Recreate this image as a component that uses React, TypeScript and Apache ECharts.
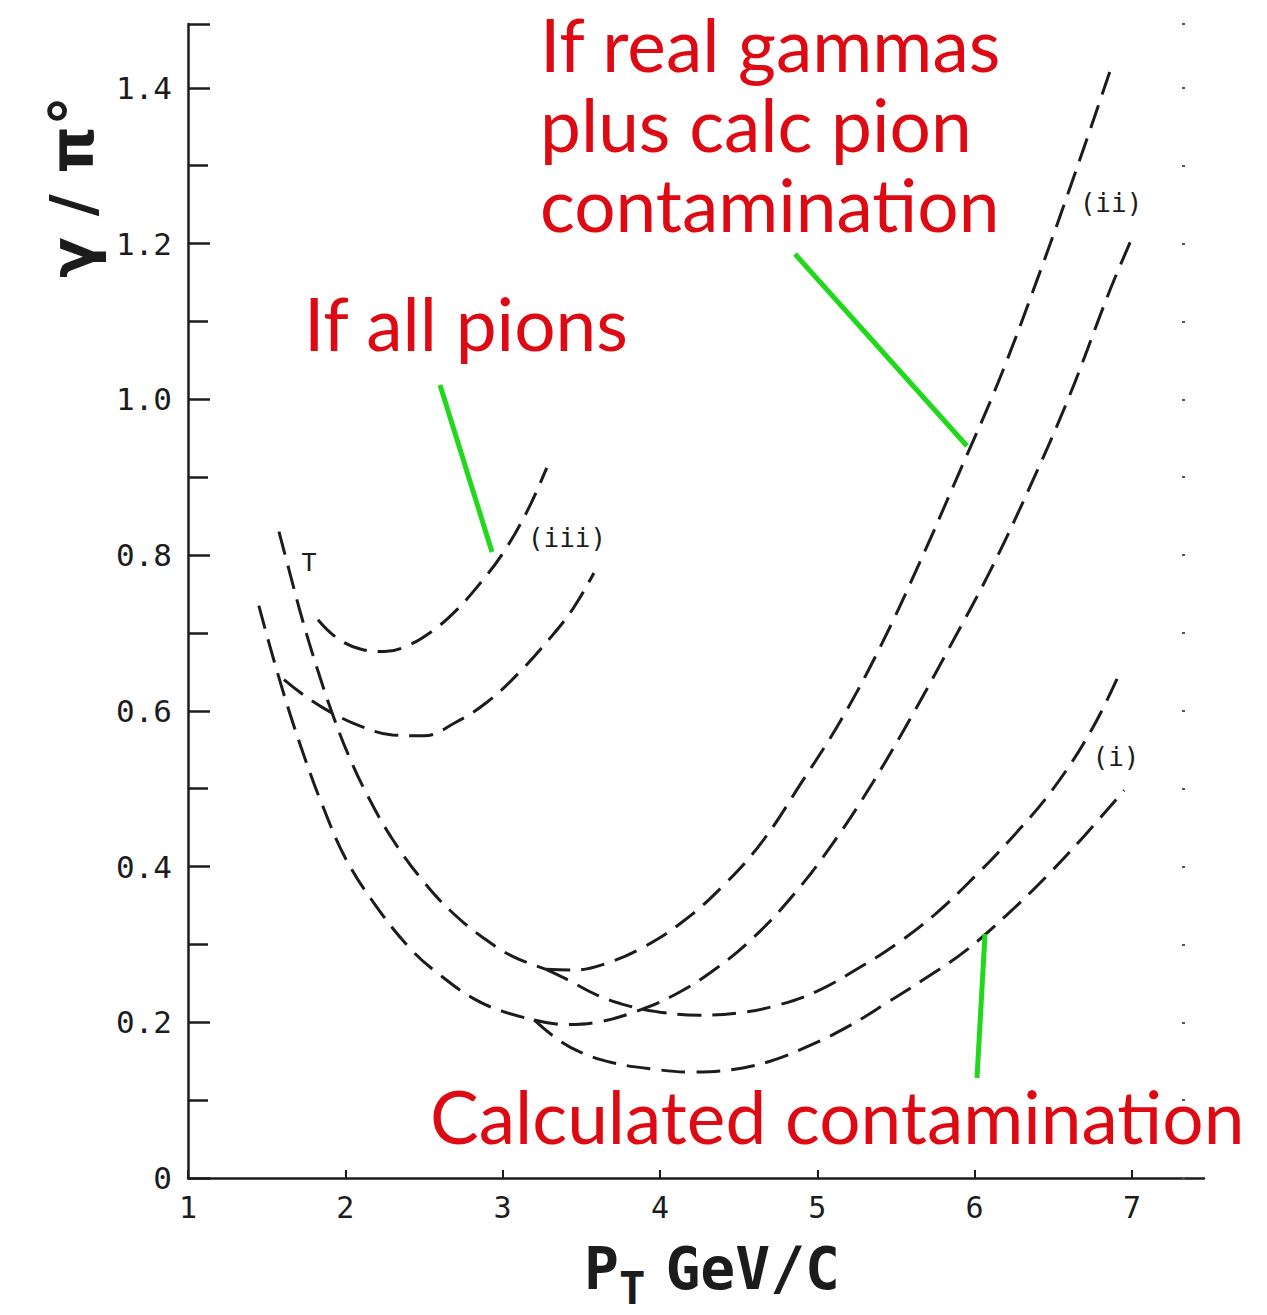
import React, { useEffect, useRef } from "react";
import * as echarts from "echarts";

// ---- data (x = P_T GeV/c, y = gamma / pi0) ----
const xTickValues = [1, 2, 3, 4, 5, 6, 7];
const yTickValues = [0, 0.2, 0.4, 0.6, 0.8, 1.0, 1.2, 1.4];

// left, steep, lower branch (common to both lower curves)
const branchLower: number[][] = [
  [1.45, 0.735], [1.55, 0.662], [1.65, 0.595], [1.75, 0.535], [1.85, 0.481], [2.0, 0.411],
  [2.2, 0.348], [2.42, 0.293], [2.6, 0.261], [2.81, 0.231], [3.0, 0.214], [3.2, 0.203],
];
// left, steep, upper branch (common to both upper curves), marked T
const branchUpper: number[][] = [
  [1.578, 0.83], [1.65, 0.775], [1.73, 0.715], [1.82, 0.655], [1.92, 0.595], [2.02, 0.543],
  [2.144, 0.49], [2.3, 0.435], [2.5, 0.38], [2.685, 0.34], [2.88, 0.308], [3.06, 0.285],
  [3.276, 0.268],
];
// (ii) upper
const curveIIUpper: number[][] = [
  [3.276, 0.268], [3.45, 0.267], [3.65, 0.275], [3.9, 0.297], [4.15, 0.33], [4.4, 0.375],
  [4.65, 0.432], [4.9, 0.508], [5.15, 0.588], [5.4, 0.682], [5.65, 0.79], [5.9, 0.905],
  [6.15, 1.022], [6.4, 1.155], [6.65, 1.297], [6.87, 1.427],
];
// (ii) lower
const curveIILower: number[][] = [
  [3.2, 0.203], [3.4, 0.197], [3.6, 0.2], [3.85, 0.214], [4.1, 0.236], [4.35, 0.268],
  [4.6, 0.31], [4.85, 0.364], [5.1, 0.43], [5.35, 0.507], [5.6, 0.593], [5.85, 0.685],
  [6.1, 0.78], [6.35, 0.887], [6.6, 1.003], [6.85, 1.135], [7.0, 1.207],
];
// (i) upper
const curveIUpper: number[][] = [
  [3.276, 0.268], [3.4, 0.256], [3.6, 0.235], [3.8, 0.221], [4.0, 0.213], [4.25, 0.209],
  [4.5, 0.212], [4.75, 0.222], [5.0, 0.24], [5.25, 0.268], [5.5, 0.3], [5.75, 0.339],
  [6.0, 0.387], [6.25, 0.44], [6.5, 0.5], [6.75, 0.578], [6.93, 0.652],
];
// (i) lower
const curveILower: number[][] = [
  [3.2, 0.203], [3.35, 0.178], [3.5, 0.161], [3.7, 0.148], [3.95, 0.14], [4.2, 0.136],
  [4.45, 0.139], [4.7, 0.15], [4.95, 0.17], [5.2, 0.195], [5.45, 0.226], [5.7, 0.258],
  [5.95, 0.293], [6.2, 0.337], [6.45, 0.386], [6.7, 0.44], [6.95, 0.498],
];
// (iii) upper
const curveIIIUpper: number[][] = [
  [1.826, 0.717], [1.95, 0.693], [2.1, 0.679], [2.25, 0.676], [2.4, 0.684], [2.55, 0.702],
  [2.7, 0.728], [2.85, 0.762], [3.0, 0.802], [3.15, 0.854], [3.28, 0.912],
];
// (iii) lower
const curveIIILower: number[][] = [
  [1.61, 0.64], [1.75, 0.618], [1.9, 0.599], [2.1, 0.58], [2.3, 0.569], [2.5, 0.568],
  [2.7, 0.585], [2.9, 0.611], [3.1, 0.648], [3.3, 0.693], [3.45, 0.732], [3.58, 0.777],
];

const INK = "#1c1c1c";
const RED = "#dd0a14";
const GREEN = "#22d81c";

function dashed(name: string, data: number[][]) {
  return {
    type: "line",
    name,
    data,
    showSymbol: false,
    smooth: 0.4,
    silent: true,
    lineStyle: { color: INK, width: 3, type: [24, 11] },
  };
}

export default function App() {
  const ref = useRef<HTMLDivElement>(null);

  useEffect(() => {
    if (!ref.current) return;
    const chart = echarts.init(ref.current, undefined, { renderer: "svg" });

    const option: any = {
      animation: false,
      backgroundColor: "#ffffff",
      grid: {
        left: 188,
        top: 24,
        width: 1016,
        height: 1154,
        containLabel: false,
        outerBoundsMode: "none",
      },
      xAxis: {
        type: "value",
        min: xTickValues[0],
        max: 7.458,
        interval: 1,
        axisLine: { show: true, lineStyle: { color: INK, width: 2.5 } },
        axisTick: { show: true, inside: true, length: 8, lineStyle: { color: INK, width: 2 } },
        axisLabel: {
          fontFamily: "DejaVu Sans Mono",
          fontSize: 30,
          color: INK,
          margin: 14,
          showMaxLabel: false,
          formatter: (v: number) => (xTickValues.includes(v) ? String(v) : ""),
        },
        splitLine: { show: false },
        name: "{a|P}{b|T}{a|GeV/C}",
        nameLocation: "middle",
        nameGap: 44,
        nameTextStyle: {
          padding: [0, 0, 0, 32],
          rich: {
            a: { fontFamily: "DejaVu Sans Mono", fontWeight: "bold", fontSize: 58, lineHeight: 58, color: INK },
            b: {
              fontFamily: "DejaVu Sans Mono",
              fontWeight: "bold",
              fontSize: 44,
              lineHeight: 44,
              color: INK,
              padding: [40, 20, 0, 0],
            },
          },
        },
      },
      yAxis: [
        {
          type: "value",
          min: yTickValues[0],
          max: 1.482,
          interval: 0.2,
          axisLine: { show: true, lineStyle: { color: INK, width: 2.5 } },
          axisTick: { show: true, inside: true, length: 22, lineStyle: { color: INK, width: 2.5 } },
          minorTick: { show: true, splitNumber: 2, length: 20, lineStyle: { color: INK, width: 2.5 } },
          axisLabel: {
            fontFamily: "DejaVu Sans Mono",
            fontSize: 31,
            color: INK,
            margin: 16,
            formatter: (v: number) => {
              const hit = yTickValues.find((t) => Math.abs(t - v) < 1e-6);
              if (hit === undefined) return "";
              return hit === 0 ? "0" : hit.toFixed(1);
            },
          },
          splitLine: { show: false },
        },
        {
          type: "value",
          min: 0,
          max: 1.482,
          interval: 0.1,
          position: "right",
          offset: -19,
          axisLine: { show: false },
          axisTick: { show: true, inside: true, length: 3, lineStyle: { color: "#555", width: 2 } },
          axisLabel: { show: false },
          splitLine: { show: false },
        },
      ],
      series: [
        dashed("branch lower", branchLower),
        dashed("branch upper (T)", branchUpper),
        dashed("(ii) upper", curveIIUpper),
        dashed("(ii) lower", curveIILower),
        dashed("(i) upper", curveIUpper),
        dashed("(i) lower", curveILower),
        dashed("(iii) upper", curveIIIUpper),
        dashed("(iii) lower", curveIIILower),
      ],
      graphic: [
        {
          type: "text",
          x: 72,
          y: 187,
          rotation: Math.PI / 2,
          style: {
            text: "γ / π°",
            fontFamily: "DejaVu Sans",
            fontWeight: "bold",
            fontSize: 60,
            fill: INK,
            align: "center",
            verticalAlign: "middle",
          },
        },
        {
          type: "text",
          x: 309,
          y: 562,
          style: { text: "T", fontFamily: "DejaVu Sans Mono", fontSize: 25, fill: INK, align: "center", verticalAlign: "middle" },
        },
        {
          type: "text",
          x: 567,
          y: 538,
          style: { text: "(iii)", fontFamily: "DejaVu Sans Mono", fontSize: 26, fill: INK, align: "center", verticalAlign: "middle" },
        },
        {
          type: "text",
          x: 1111,
          y: 203,
          style: { text: "(ii)", fontFamily: "DejaVu Sans Mono", fontSize: 26, fill: INK, align: "center", verticalAlign: "middle" },
        },
        {
          type: "text",
          x: 1116,
          y: 757,
          style: { text: "(i)", fontFamily: "DejaVu Sans Mono", fontSize: 26, fill: INK, align: "center", verticalAlign: "middle" },
        },
        {
          type: "text",
          x: 540,
          y: 124,
          style: {
            text: "If real gammas\nplus calc pion\ncontamination",
            fontFamily: "Lato",
            fontSize: 73,
            lineHeight: 80,
            fill: RED,
            align: "left",
            verticalAlign: "middle",
          },
        },
        {
          type: "text",
          x: 304,
          y: 323,
          style: { text: "If all pions", fontFamily: "Lato", fontSize: 73, fill: RED, align: "left", verticalAlign: "middle" },
        },
        {
          type: "text",
          x: 430,
          y: 1116,
          style: { text: "Calculated contamination", fontFamily: "Lato", fontSize: 73, fill: RED, align: "left", verticalAlign: "middle" },
        },
        { type: "line", z: 50, shape: { x1: 440, y1: 385, x2: 492, y2: 552 }, style: { stroke: GREEN, lineWidth: 5 } },
        { type: "line", z: 50, shape: { x1: 795, y1: 254, x2: 967, y2: 446 }, style: { stroke: GREEN, lineWidth: 5 } },
        { type: "line", z: 50, shape: { x1: 985, y1: 934, x2: 977, y2: 1078 }, style: { stroke: GREEN, lineWidth: 5 } },
      ],
    };

    chart.setOption(option);
    return () => chart.dispose();
  }, []);

  return (
    <div
      ref={ref}
      style={{ position: "absolute", left: 0, top: 0, width: 1267, height: 1315, background: "#fff" }}
    />
  );
}
